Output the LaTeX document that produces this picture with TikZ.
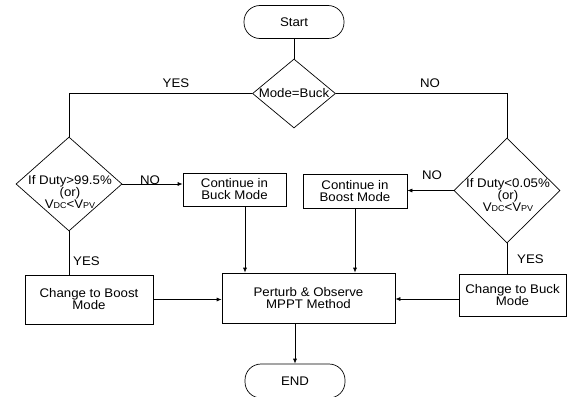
\documentclass[tikz,border=0pt]{standalone}
\usepackage{fontspec}
\setmainfont{Liberation Sans}[FakeStretch=1.06]
\usetikzlibrary{shapes.geometric,arrows.meta}
\newcommand{\sbs}[1]{\raisebox{-0.6pt}{\fontsize{8.5}{8}\selectfont #1}}
\begin{document}
\begin{tikzpicture}[x=1pt,y=-1pt,
  every node/.style={font=\fontsize{12.5}{12}\selectfont, inner sep=0pt, align=center},
  boxst/.style={draw, line width=0.7pt, rectangle},
  term/.style={draw, line width=0.7pt, rectangle, rounded corners=16pt},
  dia/.style={draw, line width=0.7pt, diamond, inner sep=0pt},
  ln/.style={line width=0.7pt},
  arr/.style={line width=0.7pt, -{Latex[length=5pt,width=4pt]}},
  lbl/.style={font=\fontsize{12.5}{12}\selectfont}
]
\useasboundingbox (0,0) rectangle (569,396);
\fill[white] (0,0) rectangle (569,396);

% terminators
\node[term, minimum width=100pt, minimum height=33pt] (start) at (294,22) {Start};
\node[term, minimum width=100pt, minimum height=34pt] (en) at (295,381) {END};

% decision diamonds
\node[dia, minimum width=83pt, minimum height=69pt] (mode) at (294,93.5) {};
\node (modet) at (294,93.5) {Mode=Buck};

\node[dia, minimum width=106pt, minimum height=94pt] (dl) at (69,184) {};
\node (dlt) at (70,192) {If Duty>99.5\%\\(or)\\V\sbs{DC}<V\sbs{PV}};

\node[dia, minimum width=106pt, minimum height=105pt] (dr) at (507,190.5) {};
\node (drt) at (508,195) {If Duty<0.05\%\\(or)\\V\sbs{DC}<V\sbs{PV}};

% process boxes
\node[boxst, minimum width=103pt, minimum height=33pt] (cb) at (234.5,189.5) {Continue in\\Buck Mode};
\node[boxst, minimum width=104pt, minimum height=34pt] (cbo) at (355,191) {Continue in\\Boost Mode};
\node[boxst, minimum width=128pt, minimum height=49pt] (tb) at (89,299.5) {Change to Boost\\Mode};
\node[boxst, minimum width=107pt, minimum height=42pt] (tk) at (512.5,295) {Change to Buck\\Mode};
\node[boxst, minimum width=173pt, minimum height=50pt] (po) at (308.5,298) {Perturb \& Observe\\MPPT Method};

% connectors
\draw[ln] (start) -- (mode);
\draw[ln] (mode.west) -- (dl.north |- mode.west) -- (dl.north);
\draw[ln] (mode.east) -- (dr.north |- mode.east) -- (dr.north);
\draw[arr] (dl.east) -- (cb.west |- dl.east);
\draw[arr] (dr.west) -- (cbo.east |- dr.west);
\draw[ln] (dl.south) -- (tb.north -| dl.south);
\draw[ln] (dr.south) -- (tk.north -| dr.south);
\draw[arr] ([xshift=10.5pt]cb.south) -- ([xshift=10.5pt]cb.south |- po.north);
\draw[arr] (cbo.south) -- (cbo.south |- po.north);
\draw[arr] (tb.east) -- (tb.east -| po.west);
\draw[arr] ([yshift=-4pt]tk.west) -- ([yshift=-4pt]tk.west -| po.east);
\draw[arr] (en.north |- po.south) -- (en.north);

% labels
\node[lbl] (lyes1) at (176,83) {YES};
\node[lbl] (lno1) at (430,83) {NO};
\node[lbl] (lno2) at (150,180) {NO};
\node[lbl] (lno3) at (432,175) {NO};
\node[lbl, anchor=west] (lyes2) at (73,261) {YES};
\node[lbl, anchor=west] (lyes3) at (517,259) {YES};
\end{tikzpicture}
\end{document}
